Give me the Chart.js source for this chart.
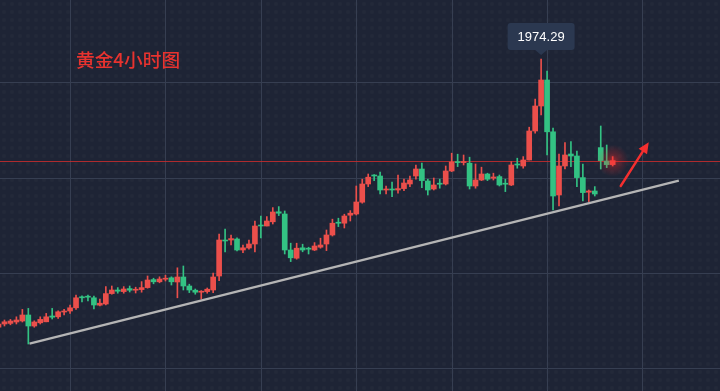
<!DOCTYPE html>
<html><head><meta charset="utf-8">
<script src="https://cdn.jsdelivr.net/npm/chart.js@4.4.1/dist/chart.umd.min.js"></script>
<style>
html,body{margin:0;padding:0;background:#1e2435;overflow:hidden;}
#wrap{position:relative;width:720px;height:391px;}
#c{display:block;}
#title{position:absolute;left:76px;top:49px;font-size:18.7px;font-weight:500;font-family:"Noto Sans CJK SC","Noto Sans",sans-serif;color:#e8332f;line-height:19px;white-space:nowrap;}
</style></head><body>
<div id="wrap"><canvas id="c" width="720" height="391"></canvas><div id="title">黄金4小时图</div></div>
<script>
// candle index (4-hour bars)
const candleIndex = [1,2,3,4,5,6,7,8,9,10,11,12,13,14,15,16,17,18,19,20,21,22,23,24,25,26,27,28,29,30,31,32,33,34,35,36,37,38,39,40,41,42,43,44,45,46,47,48,49,50,51,52,53,54,55,56,57,58,59,60,61,62,63,64,65,66,67,68,69,70,71,72,73,74,75,76,77,78,79,80,81,82,83,84,85,86,87,88,89,90,91,92,93,94,95,96,97,98,99,100,101,102,103,104];
const openP = [1840.2,1841.8,1842.1,1842.8,1843.3,1846.3,1840.8,1842.4,1842.9,1845.8,
1845.4,1847.8,1848.3,1849.9,1855.4,1855.4,1854.9,1851.2,1851.8,1857.0,
1858.8,1858.0,1859.5,1858.7,1859.0,1860.0,1864.0,1862.9,1864.2,1864.9,
1862.8,1865.3,1860.8,1858.7,1857.7,1858.0,1858.8,1865.8,1883.8,1883.8,
1884.3,1878.8,1879.8,1881.8,1891.3,1890.8,1892.9,1897.9,1896.8,1878.8,
1874.7,1879.9,1879.5,1878.8,1880.2,1881.8,1886.3,1892.7,1892.2,1896.2,
1896.8,1902.7,1911.8,1916.2,1915.8,1908.8,1909.3,1908.8,1909.5,1911.8,
1915.8,1919.3,1913.3,1909.3,1912.2,1911.8,1918.3,1923.0,1922.5,1922.2,
1910.8,1913.8,1916.8,1914.7,1915.5,1912.2,1911.3,1921.8,1920.8,1923.8,
1938.3,1950.8,1963.8,1937.9,1906.3,1920.8,1926.8,1925.8,1915.0,1907.7,
1908.3,1930.0,1923.3,1921.5];
const highP = [1842.2,1843.8,1844.1,1845.4,1849.1,1849.6,1843.4,1845.4,1847.1,1849.6,
1848.4,1849.1,1851.3,1856.3,1855.9,1856.3,1855.8,1854.2,1860.5,1860.8,
1860.0,1860.5,1860.8,1860.2,1863.0,1865.8,1864.7,1865.4,1866.2,1865.4,
1869.9,1870.8,1861.7,1859.3,1858.5,1859.8,1867.2,1886.8,1889.3,1886.3,
1884.9,1881.3,1883.8,1893.3,1895.8,1895.5,1900.0,1900.5,1898.3,1882.2,
1882.2,1881.7,1880.2,1882.5,1884.7,1888.8,1894.2,1894.7,1896.7,1898.5,
1910.8,1914.2,1916.8,1916.5,1917.8,1910.8,1912.8,1916.3,1914.3,1915.8,
1921.3,1922.2,1914.2,1914.8,1914.2,1920.8,1927.2,1926.7,1926.3,1925.2,
1921.8,1920.2,1917.2,1917.2,1916.3,1914.2,1923.0,1924.7,1925.5,1940.2,
1954.2,1974.29,1968.3,1939.7,1926.8,1932.5,1933.0,1928.3,1921.8,1908.8,
1910.5,1940.8,1931.3,1925.5];
const lowP = [1839.7,1840.8,1841.4,1841.8,1842.8,1831.8,1840.2,1841.8,1842.9,1844.3,
1844.6,1846.3,1847.1,1849.1,1852.9,1853.4,1849.4,1850.8,1851.3,1856.7,
1857.2,1857.2,1857.8,1857.3,1857.7,1859.7,1861.9,1862.4,1863.3,1861.3,
1854.9,1858.8,1857.5,1856.7,1854.2,1857.2,1857.5,1863.5,1877.9,1881.3,
1878.3,1877.5,1879.2,1877.8,1884.9,1890.8,1891.8,1896.0,1876.8,1873.0,
1874.2,1877.9,1876.8,1878.5,1879.7,1878.5,1885.8,1890.5,1889.8,1893.3,
1896.3,1902.2,1910.5,1913.5,1906.8,1906.8,1905.5,1907.2,1908.5,1910.5,
1914.2,1910.0,1906.3,1908.8,1909.7,1911.3,1918.0,1920.5,1921.3,1909.3,
1909.7,1913.5,1913.5,1913.8,1910.8,1908.0,1911.0,1919.7,1919.7,1923.8,
1937.2,1946.3,1926.3,1898.8,1900.8,1919.3,1920.5,1910.5,1903.3,1903.0,
1905.8,1919.3,1920.0,1920.8];
const closeP = [1841.8,1842.9,1843.3,1843.8,1846.3,1840.8,1842.8,1844.1,1845.4,1845.2,
1847.9,1848.3,1849.9,1854.9,1854.9,1855.2,1851.3,1852.2,1857.0,1858.8,
1858.2,1859.3,1858.7,1859.0,1860.0,1863.8,1862.9,1864.3,1864.7,1862.9,
1865.3,1860.8,1858.8,1857.7,1858.0,1859.2,1865.3,1883.8,1883.3,1884.5,
1878.8,1879.9,1881.8,1890.8,1890.8,1893.3,1897.8,1897.2,1878.8,1874.9,
1879.7,1878.8,1879.2,1880.8,1881.3,1886.3,1892.2,1892.2,1895.8,1897.2,
1902.8,1911.8,1915.2,1915.8,1908.8,1909.3,1908.8,1909.5,1912.3,1913.8,
1919.3,1913.5,1908.8,1911.3,1911.7,1918.3,1922.8,1922.5,1923.0,1910.8,
1913.8,1916.8,1914.2,1915.3,1911.3,1911.7,1921.3,1921.3,1923.8,1938.3,
1950.8,1963.8,1937.9,1905.8,1920.8,1926.3,1925.8,1915.0,1907.5,1908.3,
1906.8,1923.5,1921.5,1923.5];
// support trendline (index, price)
const trendX = [6.2, 115.1];
const trendY = [1832.0, 1913.5];
// arrow (index, price): tail -> head
const arrowX = [105.35, 110.05];
const arrowY = [1910.8, 1932.7];
// grid positions
const gridIndex = [13, 29, 45, 61, 77, 93, 109];
const gridPrice = [1962.6, 1915.0, 1867.3, 1819.6];

const UP = '#eb4f4b';
const DOWN = '#33c283';
const isUp = k => closeP[k] >= openP[k];

const wickData = candleIndex.map((x, k) => ({x: x, y: [lowP[k], highP[k]]}));
const bodyData = candleIndex.map((x, k) => ({x: x, y: [Math.min(openP[k], closeP[k]), Math.max(openP[k], closeP[k])]}));
const trendData = trendX.map((x, k) => ({x: x, y: trendY[k]}));

const decor = {
  id: 'decor',
  beforeDraw(chart) {
    const ctx = chart.ctx, W = chart.width, H = chart.height;
    const xs = chart.scales.x, ys = chart.scales.y;
    ctx.save();
    ctx.fillStyle = '#1e2435';
    ctx.fillRect(0, 0, W, H);
    ctx.fillStyle = 'rgba(255,255,255,0.022)';
    for (let y = 4; y < H; y += 8) {
      for (let x = 4; x < W; x += 8) {
        ctx.beginPath(); ctx.arc(x, y, 2.2, 0, Math.PI * 2); ctx.fill();
      }
    }
    ctx.strokeStyle = '#363e51';
    ctx.lineWidth = 1;
    gridIndex.forEach(v => {
      const px = Math.round(xs.getPixelForValue(v)) + 0.5;
      ctx.beginPath(); ctx.moveTo(px, 0); ctx.lineTo(px, H); ctx.stroke();
    });
    gridPrice.forEach(v => {
      const py = Math.round(ys.getPixelForValue(v)) + 0.5;
      ctx.beginPath(); ctx.moveTo(0, py); ctx.lineTo(W, py); ctx.stroke();
    });
    // last price line
    const last = closeP[closeP.length - 1];
    const ly = Math.round(ys.getPixelForValue(last)) + 0.5;
    ctx.strokeStyle = 'rgba(200,45,45,0.85)';
    ctx.beginPath(); ctx.moveTo(0, ly); ctx.lineTo(W, ly); ctx.stroke();
    ctx.restore();
  },
  afterDatasetsDraw(chart) {
    const ctx = chart.ctx;
    const xs = chart.scales.x, ys = chart.scales.y;
    ctx.save();
    // glow on last candle
    const n = candleIndex.length - 1;
    const gx = xs.getPixelForValue(candleIndex[n]);
    const gy = ys.getPixelForValue(closeP[n]);
    const g = ctx.createRadialGradient(gx, gy, 0, gx, gy, 16);
    g.addColorStop(0, 'rgba(255,40,40,0.55)');
    g.addColorStop(0.4, 'rgba(255,40,40,0.25)');
    g.addColorStop(1, 'rgba(255,40,40,0)');
    ctx.fillStyle = g;
    ctx.beginPath(); ctx.arc(gx, gy, 16, 0, Math.PI * 2); ctx.fill();
    // arrow
    const ax0 = xs.getPixelForValue(arrowX[0]), ay0 = ys.getPixelForValue(arrowY[0]);
    const ax1 = xs.getPixelForValue(arrowX[1]), ay1 = ys.getPixelForValue(arrowY[1]);
    const ang = Math.atan2(ay1 - ay0, ax1 - ax0);
    const hl = 11, hw = 5;
    const bx = ax1 - Math.cos(ang) * hl, by = ay1 - Math.sin(ang) * hl;
    ctx.strokeStyle = '#f42f2f';
    ctx.fillStyle = '#f42f2f';
    ctx.lineWidth = 2.4;
    ctx.lineCap = 'round';
    ctx.beginPath(); ctx.moveTo(ax0, ay0); ctx.lineTo(bx, by); ctx.stroke();
    ctx.beginPath();
    ctx.moveTo(ax1, ay1);
    ctx.lineTo(bx + Math.sin(ang) * hw, by - Math.cos(ang) * hw);
    ctx.lineTo(bx - Math.sin(ang) * hw, by + Math.cos(ang) * hw);
    ctx.closePath(); ctx.fill();
    // high label
    let hi = 0;
    highP.forEach((v, k) => { if (v > highP[hi]) hi = k; });
    const hx = xs.getPixelForValue(candleIndex[hi]);
    const hy = ys.getPixelForValue(highP[hi]);
    const bw = 67, bh = 27;
    const tipY = hy - 4, boxB = tipY - 5, boxT = boxB - bh;
    ctx.fillStyle = '#2b3850';
    ctx.beginPath();
    if (ctx.roundRect) ctx.roundRect(hx - bw / 2, boxT, bw, bh, 3); else ctx.rect(hx - bw / 2, boxT, bw, bh);
    ctx.fill();
    ctx.beginPath();
    ctx.moveTo(hx - 6, boxB); ctx.lineTo(hx + 6, boxB); ctx.lineTo(hx, tipY); ctx.closePath(); ctx.fill();
    ctx.fillStyle = '#ffffff';
    ctx.font = '13px "Liberation Sans", Arial, sans-serif';
    ctx.textAlign = 'center';
    ctx.textBaseline = 'middle';
    ctx.fillText(highP[hi].toFixed(2), hx, boxT + bh / 2 + 0.5);
    ctx.restore();
  }
};

new Chart(document.getElementById('c'), {
  type: 'bar',
  data: {
    datasets: [
      {
        type: 'line', data: trendData, borderColor: '#b5b5b5', borderWidth: 2.2,
        pointRadius: 0, order: 0, parsing: true
      },
      {
        data: bodyData, barThickness: 5, minBarLength: 1, grouped: false, order: 1,
        borderWidth: 0, borderSkipped: false,
        backgroundColor: c => isUp(c.dataIndex) ? UP : DOWN
      },
      {
        data: wickData, barThickness: 1, minBarLength: 1, grouped: false, order: 2,
        borderWidth: 0, borderSkipped: false,
        backgroundColor: c => isUp(c.dataIndex) ? UP : DOWN
      }
    ]
  },
  options: {
    responsive: false,
    animation: false,
    events: [],
    layout: {padding: 0},
    scales: {
      x: {type: 'linear', display: false, min: 1.25, max: 122.0, offset: false},
      y: {type: 'linear', display: false, min: 1808.3, max: 2003.8}
    },
    plugins: {legend: {display: false}, tooltip: {enabled: false}, title: {display: false}}
  },
  plugins: [decor]
});
</script>
</body></html>
